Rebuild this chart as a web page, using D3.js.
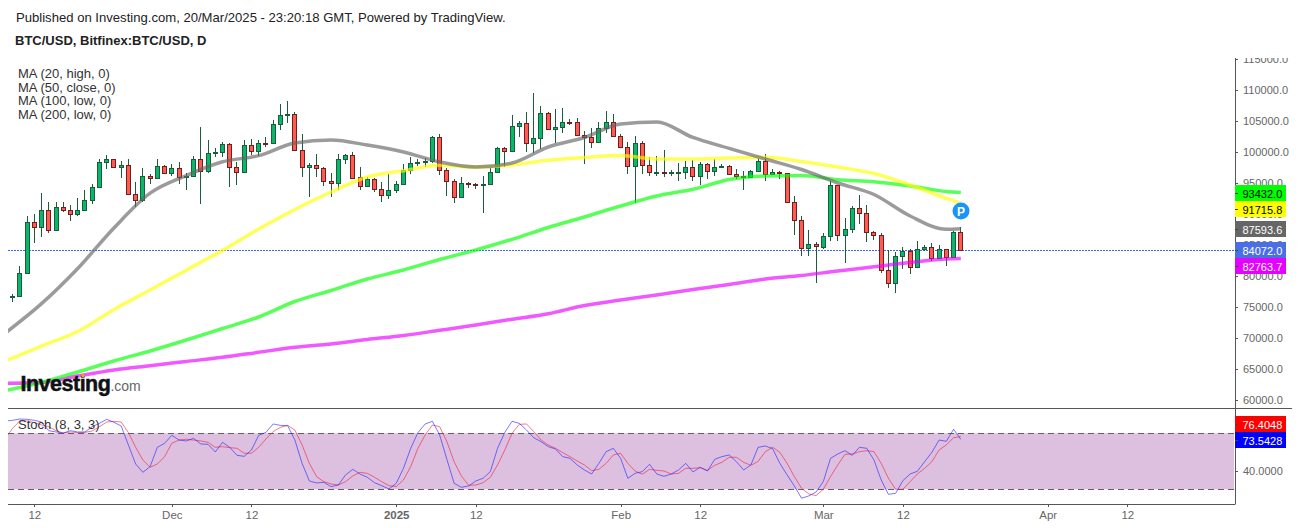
<!DOCTYPE html>
<html>
<head>
<meta charset="utf-8">
<script src="https://cdn.jsdelivr.net/npm/d3@7"></script>
<style>
  html, body { margin: 0; padding: 0; background: #fff; overflow: hidden; }
  text { font-family: "Liberation Sans", Arial, sans-serif; }
</style>
</head>
<body>
<div id="MyChart"></div>
<script>
// daily candles, first one is 9 Nov 2024, last one 20 Mar 2025
const firstCandle = "2024-11-09";
const opens = [76510,76720,80390,88630,87920,90570,87340,91050,90570,89920,90570,92180,94280,98320,98810,97510,97840,93150,92180,96060,95740,97670,96540,97350,95900,96060,98810,96870,99770,99940,101230,97510,96700,101070,100100,101390,101390,104460,105910,106080,100260,97510,97840,97350,95250,94930,98810,99450,95900,94440,95570,93960,92990,93800,94770,97030,98160,98320,98480,102360,97030,95250,92660,94930,94770,94600,94770,96700,100580,100100,104140,104620,101390,102200,106240,103650,103980,104780,104780,102680,102360,101550,103810,104780,102520,100740,97670,101390,97840,96640,96700,96540,96540,96700,97510,96060,98000,96870,97510,97670,96380,96060,95900,96870,98480,96380,96700,96540,91860,88950,84430,85070,84590,86370,94600,86530,87500,90890,90080,87010,86530,80870,78770,83130,83940,81360,84270,84590,82810,84270,82970,87010];
const highs = [77090,81570,89690,89970,93310,91910,91860,91860,91370,92500,93800,94770,98810,99450,98860,98480,98810,95090,97350,96380,98810,97840,98000,98320,96540,99290,103980,101870,100580,101550,101390,98320,101870,102040,101870,102360,105110,107690,108170,106400,102840,98160,99610,97510,96540,99610,99610,99940,97510,95900,95740,95090,96380,95250,98000,99130,98810,98970,102520,102840,97350,95570,95900,95090,94930,96060,97350,100740,100740,105910,104940,106400,109470,107370,106400,106880,107040,105270,105430,103330,103810,104780,106560,106080,102840,101550,102520,101710,99130,99290,100260,97030,98160,98480,98640,98320,98160,98810,98000,97840,97190,96870,97030,98810,99610,97190,96870,96590,92830,89600,87340,85400,86850,95250,94660,89270,91210,92990,91370,87170,86850,84100,83780,84590,84270,85560,84910,85240,84910,84310,87170,87820];
const lows = [75800,76670,80300,85330,86300,86850,87270,90240,88890,89690,90500,91540,94120,97190,97350,95740,92990,91050,91860,94770,95700,96380,96060,94770,93850,95950,91540,96540,99130,99130,94380,94600,96540,99450,99290,100740,101300,103490,104620,100100,95900,92660,95900,94570,92760,93800,98000,95570,93800,94400,93470,91860,92340,93310,94700,96380,97770,97510,98160,96320,92910,91700,92500,94120,93960,90080,94700,96650,97510,100050,102360,99940,99770,100420,103600,101390,103010,104300,102630,98000,100580,101500,103010,102470,100580,96380,91700,96380,96060,96060,95900,96060,95250,95570,95250,94600,95570,96060,97460,96330,95570,93800,95740,96820,95250,96270,95570,91810,86530,83130,83130,78770,84270,85560,85560,82000,86850,88300,85400,85720,80390,77960,77160,81030,80230,81200,83940,82330,82770,81520,82920,83940];
const closes = [76720,80390,88630,87920,90570,87340,91050,90570,89920,90570,92180,94280,98320,98810,97510,97840,93150,92180,96060,95740,97670,96540,97350,95900,96060,98810,96870,99770,99940,101230,97510,96700,101070,100100,101390,101340,104460,105910,106080,100260,97510,97840,97350,95220,94930,98810,99450,95740,94440,95570,93960,92990,93800,94770,97030,98160,98320,98480,102360,97030,95250,92660,94930,94770,94600,94770,96700,100580,100100,104140,104620,101390,102200,106240,103650,103980,104780,104670,102680,102360,101550,103810,104780,102520,100740,97670,101390,97840,96700,96700,96540,96700,96700,97510,96060,98000,96870,97510,97670,96380,96060,95900,96870,98480,96380,96700,96540,91860,88950,84430,85070,84750,86370,94600,86530,87500,90890,90080,87010,86530,80870,78770,83130,83940,81360,84270,84590,82810,84270,82970,87010,84072];

const maDates = ["2024-11-08","2024-11-13","2024-11-18","2024-11-23","2024-11-28","2024-12-03","2024-12-08","2024-12-13","2024-12-18","2024-12-23","2024-12-28","2025-01-02","2025-01-07","2025-01-12","2025-01-17","2025-01-22","2025-01-27","2025-02-01","2025-02-06","2025-02-11","2025-02-16","2025-02-21","2025-02-26","2025-03-03","2025-03-08","2025-03-13","2025-03-18","2025-03-20"];
const ma20 = [70740,75480,81160,87710,93330,96170,98400,99390,101440,101920,101100,99980,98370,97560,98210,100790,102330,104510,104830,102330,100570,98850,97160,94980,93120,89650,87500,87593.6];
const ma50 = [66220,68640,70990,74540,77690,80890,84090,87540,90700,93520,95940,96950,97840,97560,97880,98640,99080,99420,98850,98850,99010,99130,98450,97560,96510,94650,92500,91715.8];
const ma100 = [61450,62750,64440,66220,67840,69610,71470,73330,75830,77610,79470,80920,82620,84150,85880,87790,89480,91260,92880,93960,95540,96110,96190,95490,95190,94490,93600,93432];
const ma200 = [62620,62750,63800,64770,65460,66140,66820,67630,68430,68970,69690,70340,71180,72040,72960,73850,75190,76070,76880,77770,78580,79470,80030,80760,81440,82130,82700,82763.7];

// stochastic, first value is 8 Nov 2024
const firstStoch = "2024-11-08";
const stochK = [93.2,93.9,95.3,95.0,93.9,92.1,82.8,81.4,80.3,82.8,81.4,81.4,87.1,90.7,95.0,91.8,87.8,67.5,47.1,38.2,44.3,65.0,69.3,77.8,72.8,71.8,74.6,68.6,68.2,60.0,70.3,65.0,56.4,55.3,62.1,77.8,81.0,90.0,88.5,88.2,72.8,47.8,28.9,26.8,27.5,22.9,
  24.6,35.4,41.4,36.4,32.9,27.1,23.9,20.4,26.4,42.5,63.9,80.7,90.0,92.8,78.2,52.1,26.4,22.1,23.6,28.9,31.8,38.9,63.9,81.0,92.8,90.7,83.5,75.3,71.1,65.7,63.2,55.0,53.2,46.1,40.7,36.4,47.8,60.3,63.9,53.2,31.8,37.1,
  38.9,46.8,36.4,33.9,36.4,40.7,47.8,38.6,43.6,39.6,52.1,55.0,56.8,49.6,40.7,46.1,65.0,66.4,63.6,47.8,35.4,23.6,10.4,12.9,17.1,28.2,53.2,57.8,61.4,56.4,65.0,63.9,51.4,30.0,14.6,15.7,29.3,36.4,39.3,49.6,59.6,72.8,71.4,84.3,73.5428];
const stochD = [74.6,85.3,93.2,93.2,91.4,88.9,87.1,82.8,80.3,81.4,80.7,81.0,82.5,87.1,92.1,92.8,92.1,80.7,65.0,51.4,43.6,47.1,55.0,69.3,72.8,73.6,72.8,71.8,70.3,65.0,65.7,64.6,63.9,58.6,58.6,65.0,73.9,81.8,86.4,88.5,83.5,67.5,47.8,33.6,28.2,25.7,
  24.6,28.2,34.3,38.2,37.1,32.9,28.2,23.9,22.9,30.0,44.3,63.9,78.2,88.9,87.1,71.1,49.6,34.3,24.3,24.6,27.1,32.9,46.1,62.1,80.0,89.6,90.0,81.8,72.8,67.5,63.9,59.3,55.0,50.3,46.1,40.0,41.4,47.8,56.8,58.6,47.8,39.6,
  36.1,41.4,40.3,39.6,36.4,37.1,42.5,42.5,43.2,40.3,45.7,48.9,54.3,54.3,48.9,45.7,50.0,60.3,65.0,59.6,47.8,33.6,21.1,15.0,13.2,20.0,33.6,46.1,57.5,57.8,60.3,61.4,60.3,47.8,31.8,20.0,20.0,28.2,36.4,42.5,49.6,62.1,67.5,75.3,76.4048];

const priceTicks = [60000,65000,70000,75000,80000,85000,90000,95000,100000,105000,110000,115000];
const stochTicks = [40];
const timeTicks = ["2024-11-12","2024-12-01","2024-12-12","2025-01-01","2025-01-12","2025-02-01","2025-02-12","2025-03-01","2025-03-12","2025-04-01","2025-04-12"];
const timeLabels = ["12","Dec","12","2025","12","Feb","12","Mar","12","Apr","12"];
const legendLines = ["MA (20, high, 0)","MA (50, close, 0)","MA (100, low, 0)","MA (200, low, 0)"];
const lastPrice = 84072;

const width = 1299, height = 528;
const left = 8, right = 1235, paneTop = 58, paneMid = 408, paneBottom = 504;

const parse = d3.utcParse("%Y-%m-%d");
const dayAfter = (start, i) => d3.utcDay.offset(parse(start), i);

const x = d3.scaleUtc().domain([parse("2024-11-12"), parse("2025-04-12")]).range([34.3, 1127.3]);
const y = d3.scaleLinear().domain([60000, 110000]).range([399.5, 90]);
const yStoch = d3.scaleLinear().domain([20, 80]).range([489.3, 433.3]);

const svg = d3.select("#MyChart").append("svg")
  .attr("width", width)
  .attr("height", height)
  .style("display", "block");

const defs = svg.append("defs");
defs.append("clipPath").attr("id", "mainClip").append("rect")
  .attr("x", left).attr("y", paneTop).attr("width", right - left).attr("height", paneMid - paneTop);
defs.append("clipPath").attr("id", "stochClip").append("rect")
  .attr("x", left).attr("y", paneMid).attr("width", right - left).attr("height", paneBottom - paneMid);
defs.append("clipPath").attr("id", "axisClip").append("rect")
  .attr("x", right).attr("y", paneTop).attr("width", width - right).attr("height", paneBottom - paneTop);

// header
svg.append("text").attr("x", 16).attr("y", 22).style("font-size", "13.1px").style("fill", "#222")
  .text("Published on Investing.com, 20/Mar/2025 - 23:20:18 GMT, Powered by TradingView.");
svg.append("text").attr("x", 15).attr("y", 45).style("font-size", "13px").style("font-weight", "bold").style("fill", "#222")
  .text("BTC/USD, Bitfinex:BTC/USD, D");

// stochastic band sits behind everything in its pane
svg.append("rect")
  .attr("x", left).attr("width", right - left - 1)
  .attr("y", yStoch(80)).attr("height", yStoch(20) - yStoch(80))
  .style("fill", "#ddbfdf");
[20, 80].forEach(function(v) {
  svg.append("line")
    .attr("x1", left).attr("x2", right - 1)
    .attr("y1", Math.round(yStoch(v)) + 0.5).attr("y2", Math.round(yStoch(v)) + 0.5)
    .style("stroke", "#6b5a6b").style("stroke-width", 1).style("stroke-dasharray", "6,4");
});

// last price line
svg.append("line")
  .attr("x1", left).attr("x2", right)
  .attr("y1", Math.floor(y(lastPrice)) + 0.5).attr("y2", Math.floor(y(lastPrice)) + 0.5)
  .style("stroke", "#3f68e8").style("stroke-width", 1).style("stroke-dasharray", "2,1");

// candles
const candles = d3.range(opens.length).map(function(i) {
  return { date: dayAfter(firstCandle, i), o: opens[i], h: highs[i], l: lows[i], c: closes[i] };
});
const main = svg.append("g").attr("clip-path", "url(#mainClip)");

const candle = main.selectAll(".candle").data(candles).enter().append("g").attr("class", "candle");
candle.append("line")
  .attr("x1", d => Math.floor(x(d.date)) + 0.5)
  .attr("x2", d => Math.floor(x(d.date)) + 0.5)
  .attr("y1", d => Math.round(y(d.h)))
  .attr("y2", d => Math.round(y(d.l)))
  .style("stroke", "#1a5c3c").style("stroke-width", 1);
candle.append("rect")
  .attr("x", d => Math.floor(x(d.date)) - 1.5)
  .attr("width", 4)
  .attr("y", d => Math.round(y(Math.max(d.o, d.c))) + 0.5)
  .attr("height", d => Math.max(Math.round(y(Math.min(d.o, d.c))) - Math.round(y(Math.max(d.o, d.c))), 1))
  .style("fill", d => d.c >= d.o ? "#08b868" : "#ff5b50")
  .style("stroke", d => d.c >= d.o ? "#1a5c3c" : "#6e1f1f")
  .style("stroke-width", 1);

// moving averages
const maLine = d3.line().x(d => x(d.date)).y(d => y(d.v)).curve(d3.curveMonotoneX);
const maSeries = [
  { values: ma200, color: "#e600ff" },
  { values: ma100, color: "#00ff00" },
  { values: ma50, color: "#ffff00" },
  { values: ma20, color: "#666666" }
];
maSeries.forEach(function(s) {
  const points = maDates.map((d, i) => ({ date: parse(d), v: s.values[i] }));
  main.append("path")
    .datum(points)
    .attr("d", maLine)
    .style("fill", "none")
    .style("stroke", s.color)
    .style("stroke-opacity", 0.65)
    .style("stroke-width", 3.5);
});

// legend
svg.append("g").selectAll("text").data(legendLines).enter().append("text")
  .attr("x", 18)
  .attr("y", (d, i) => 78 + i * 13.7)
  .style("font-size", "13px").style("fill", "#333")
  .text(d => d);

// pivot marker on the last candle
const marker = svg.append("g")
  .attr("transform", "translate(" + (x(dayAfter(firstCandle, opens.length - 1)) + 0.2) + ",211)");
marker.append("circle").attr("r", 8.5).style("fill", "#1a94f5");
marker.append("text").attr("text-anchor", "middle").attr("y", 4.5)
  .style("font-size", "12px").style("font-weight", "bold").style("fill", "#fff").text("P");

// logo
const logo = svg.append("text").attr("x", 20.5).attr("y", 391);
logo.append("tspan").style("font-size", "21.5px").style("font-weight", "bold").style("fill", "#111")
  .style("stroke", "#111").style("stroke-width", 0.5).style("letter-spacing", "-0.5px").text("Investing");
logo.append("tspan").style("font-size", "14px").style("fill", "#666").text(".com");
svg.append("circle").attr("cx", 83).attr("cy", 375.5).attr("r", 1.8).style("fill", "#ff9a2e");

// stochastic lines
const stochLine = d3.line().x(d => x(d.date)).y(d => yStoch(d.v));
const stochPane = svg.append("g").attr("clip-path", "url(#stochClip)");
[{ values: stochD, color: "#f0203c" }, { values: stochK, color: "#2222ff" }].forEach(function(s) {
  stochPane.append("path")
    .datum(s.values.map((v, i) => ({ date: dayAfter(firstStoch, i), v: v })))
    .attr("d", stochLine)
    .style("fill", "none")
    .style("stroke", s.color)
    .style("stroke-opacity", 0.6)
    .style("stroke-width", 1);
});
svg.append("text").attr("x", 18).attr("y", 429).style("font-size", "13px").style("fill", "#333")
  .text("Stoch (8, 3, 3)");

// frame
[[left, right + 57, paneMid + 0.5, paneMid + 0.5], [left, right, paneBottom + 0.5, paneBottom + 0.5], [right + 0.5, right + 0.5, paneTop, paneBottom + 0.5]].forEach(function(l) {
  svg.append("line")
    .attr("x1", l[0]).attr("x2", l[1]).attr("y1", l[2]).attr("y2", l[3])
    .style("stroke", "#555").style("stroke-width", 1);
});

// axes
function styleAxis(g) {
  g.select(".domain").remove();
  g.selectAll("line").style("stroke", "#555").attr("shape-rendering", "crispEdges");
  g.selectAll("text").style("font-size", "11px").style("fill", "#666")
    .style("font-family", '"Liberation Sans", Arial, sans-serif');
}
const axisGroup = svg.append("g").attr("clip-path", "url(#axisClip)");
axisGroup.append("g")
  .attr("transform", "translate(" + right + ",0)")
  .call(d3.axisRight(y).tickValues(priceTicks).tickFormat(d3.format(".1f")).tickSize(3).tickPadding(5))
  .call(styleAxis);
axisGroup.append("g")
  .attr("transform", "translate(" + right + ",0)")
  .call(d3.axisRight(yStoch).tickValues(stochTicks).tickFormat(d3.format(".4f")).tickSize(3).tickPadding(5))
  .call(styleAxis);

svg.append("g")
  .attr("transform", "translate(0," + paneBottom + ")")
  .call(d3.axisBottom(x).tickValues(timeTicks.map(parse)).tickFormat((d, i) => timeLabels[i]).tickSize(3).tickPadding(4))
  .call(styleAxis)
  .selectAll("text")
  .style("font-size", "11.5px")
  .style("font-weight", (d, i) => timeLabels[i] === "2025" ? "bold" : "normal");

// value tags on the price axis, pushed apart so they do not overlap
const tagH = 16;
const priceTags = [
  { label: "93432.0", value: 93432, fill: "#00ff00", text: "#000" },
  { label: "91715.8", value: 91715.8, fill: "#ffff00", text: "#000" },
  { label: "87593.6", value: 87593.6, fill: "#666666", text: "#fff" },
  { label: "84072.0", value: lastPrice, fill: "#4a6fe3", text: "#fff" },
  { label: "82763.7", value: 82763.7, fill: "#e600ff", text: "#fff" }
];
let prevY = -Infinity;
priceTags.forEach(function(t) {
  t.mark = y(t.value);
  t.cy = Math.max(t.mark, prevY + tagH);
  prevY = t.cy;
});
const stochTags = [
  { label: "73.5428", value: stochK[stochK.length - 1], fill: "#0000ff", text: "#fff" },
  { label: "76.4048", value: stochD[stochD.length - 1], fill: "#ff0000", text: "#fff" }
];
stochTags.forEach(function(t, i) {
  t.mark = yStoch(t.value);
  t.cy = i === 0 ? 440 : Math.min(t.mark, stochTags[i - 1].cy - tagH);
});
const tag = svg.append("g").selectAll("g").data(priceTags.concat(stochTags)).enter().append("g");
tag.append("rect")
  .attr("x", right).attr("width", 51)
  .attr("y", d => Math.round(d.cy - tagH / 2)).attr("height", tagH)
  .style("fill", d => d.fill);
tag.append("line")
  .attr("x1", right).attr("x2", right + 3)
  .attr("y1", d => Math.round(d.cy) + 0.5).attr("y2", d => Math.round(d.cy) + 0.5)
  .style("stroke", "#444");
tag.append("text")
  .attr("x", right + 7.5)
  .attr("y", d => Math.round(d.cy) + 4.5)
  .style("font-size", "11px")
  .style("fill", d => d.text)
  .text(d => d.label);
</script>
</body>
</html>
